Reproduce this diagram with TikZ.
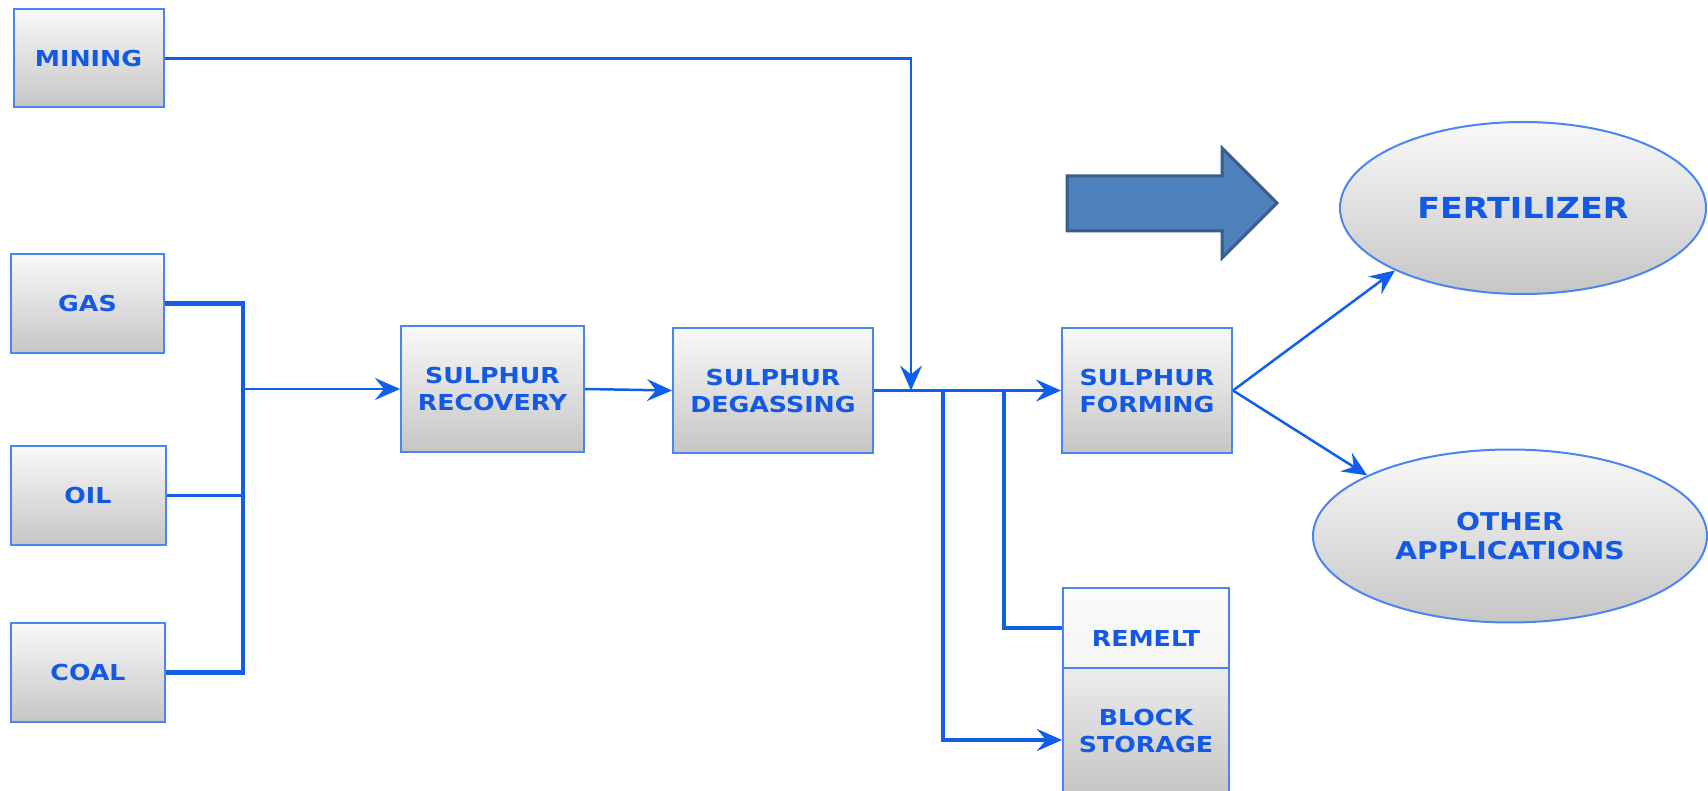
\documentclass[tikz,border=0pt]{standalone}
\usepackage{fontspec}
\setmainfont{DejaVu Sans}[FakeStretch=1.15]
\usetikzlibrary{arrows.meta, shapes.geometric}
\definecolor{textblue}{HTML}{1459E3}
\definecolor{lineblue}{HTML}{0F5FEA}
\definecolor{edgeblue}{HTML}{4A85F2}
\definecolor{arrowfill}{HTML}{4F81BD}
\definecolor{arrowedge}{HTML}{385D8A}

\begin{document}
\begin{tikzpicture}[x = 1pt, y = -1pt, >={Stealth[length = 25pt, width = 22pt, inset = 9pt]},
  proc/.style={draw = edgeblue, line width = 2pt, top color = gray!5, bottom color = gray!45, text = textblue, font = \bfseries\fontsize{22}{27}\selectfont, align = center, inner sep = 0pt},
  goal/.style={proc, ellipse},
  flow/.style={draw = lineblue, line width = 2.5pt},
  bus/.style={flow, line width = 4.5pt}]

  \useasboundingbox (0, 0) rectangle (1708, 791);

  \node[proc, minimum width = 150, minimum height = 98] (mining) at (88.5, 58.5) {MINING};

  \node[proc, minimum width = 153, minimum height = 99] (gas) at (87.5, 303.5) {GAS};
  \node[proc, minimum width = 155, minimum height = 99] (oil) at (88, 495.5) {OIL};
  \node[proc, minimum width = 154, minimum height = 99] (coal) at (88, 672.5) {COAL};

  \node[proc, minimum width = 183, minimum height = 126] (recovery) at (492.5, 389) {SULPHUR\\RECOVERY};
  \node[proc, minimum width = 200, minimum height = 125] (degassing) at (773, 390.5) {SULPHUR\\DEGASSING};
  \node[proc, minimum width = 170, minimum height = 125] (forming) at (1147, 390.5) {SULPHUR\\FORMING};

  \node[proc, top color = gray!3, bottom color = gray!8, minimum width = 166, minimum height = 80, text height = 36pt] (remelt) at (1146, 628) {REMELT};
  \node[proc, top color = gray!15, bottom color = gray!45, minimum width = 166, minimum height = 126] (block) at (1146, 731) {BLOCK\\STORAGE};

  \node[goal, minimum width = 366, minimum height = 172, font = \bfseries\fontsize{29}{34}\selectfont] (fertilizer) at (1523, 208) {FERTILIZER};
  \node[goal, minimum width = 394, minimum height = 173, font = \bfseries\fontsize{24.5}{29}\selectfont] (other) at (1510, 536) {OTHER\\APPLICATIONS};

  \draw[draw = arrowedge, fill = arrowfill, line width = 3pt, line join = miter]
    (1067, 176) -- (1222, 176) -- (1222, 148) -- (1277, 203) -- (1222, 258) -- (1222, 231) -- (1067, 231) -- cycle;

  \coordinate (bus) at (243, 389);
  \coordinate (join) at (911, 390.5);
  \coordinate (tapblock) at (943, 390.5);
  \coordinate (tapremelt) at (1004, 390.5);

  \draw[bus] (gas.east) -| (bus |- coal.east) -- (coal.east);
  \draw[flow] (oil.east) -- (oil.east -| bus);
  \draw[flow, ->] (bus) -- (recovery.west);
  \draw[flow, ->] (recovery.east) -- (degassing.west);
  \draw[flow, ->] (mining.east) -| (join);
  \draw[flow, ->] (degassing.east) -- (forming.west);
  \draw[bus, ->] (tapblock) |- ([yshift = -9pt]block.west);
  \draw[flow, line width = 3.5pt] (tapremelt) |- (remelt.west);
  \draw[flow, ->] (forming.east) -- (fertilizer.206);
  \draw[flow, ->] (forming.east) -- (other.157);

\end{tikzpicture}
\end{document}
